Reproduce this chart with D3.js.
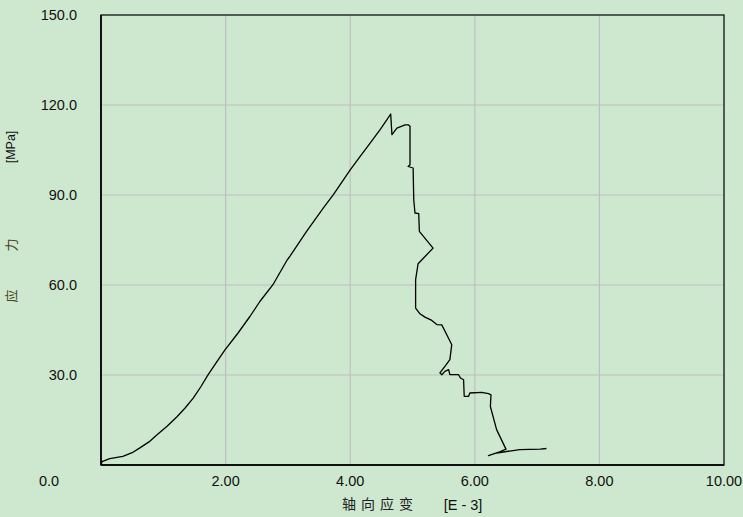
<!DOCTYPE html>
<html><head><meta charset="utf-8">
<script src="https://cdn.jsdelivr.net/npm/d3@7"></script>
<style>html,body{margin:0;padding:0;background:#cde8cf;}svg{display:block;}</style>
</head><body><svg id="c" width="743" height="517"></svg>
<script>
const strain = [0,0.016,0.14,0.35,0.50,0.63,0.77,0.90,1.06,1.22,1.35,1.48,1.60,1.72,1.85,1.99,2.20,2.39,2.55,2.76,2.99,3.03,3.30,3.57,3.73,4.00,4.16,4.32,4.48,4.59,4.65,4.67,4.75,4.88,4.93,4.96,4.96,4.93,5.01,5.02,5.04,5.10,5.11,5.33,5.09,5.05,5.05,5.12,5.20,5.31,5.39,5.47,5.55,5.63,5.60,5.52,5.44,5.47,5.52,5.58,5.60,5.74,5.77,5.82,5.83,5.90,5.92,6.11,6.22,6.26,6.25,6.35,6.50,6.41,6.22,6.35,6.51,6.72,7.05,7.15];
const stress = [0,1.1,2.1,2.9,4.1,5.8,7.7,10.1,12.9,16.1,19.0,22.3,26.0,30.1,34.1,38.4,44.0,49.5,54.5,60.1,68.4,69.5,77.9,85.7,90.1,98.4,102.9,107.3,111.8,115.1,117.0,110.1,112.3,113.4,113.4,112.9,100.1,99.5,99.0,88.4,84.0,83.8,77.9,72.3,67.1,61.8,52.3,50.4,49.3,48.2,46.8,46.7,43.4,40.1,35.1,32.9,30.7,30.1,31.2,31.8,30.1,30.1,29.0,28.4,22.9,22.9,24.0,24.2,23.8,23.4,19.5,11.8,5.3,4.5,3.1,4.0,4.5,5.1,5.3,5.5];
const xTicks = [0,2,4,6,8,10];
const xTickLabels = ["0.0","2.00","4.00","6.00","8.00","10.00"];
const yTicks = [0,30,60,90,120,150];
const yTickLabels = ["","30.0","60.0","90.0","120.0","150.0"];

const svg = d3.select("#c");
const L=101, R=724, T=15, B=465;
const x = d3.scaleLinear().domain([0,10]).range([L,R]);
const y = d3.scaleLinear().domain([0,150]).range([B,T]);
const font = "Arial, 'Liberation Sans', sans-serif";

// grid
svg.append("g").selectAll("line").data(xTicks.slice(1,-1)).join("line")
  .attr("x1",d=>x(d)).attr("x2",d=>x(d)).attr("y1",T).attr("y2",B)
  .attr("stroke","#bfbfbf").attr("stroke-width",1.2);
svg.append("g").selectAll("line").data(yTicks.slice(1,-1)).join("line")
  .attr("y1",d=>y(d)).attr("y2",d=>y(d)).attr("x1",L).attr("x2",R)
  .attr("stroke","#bfbfbf").attr("stroke-width",1.2);

// frame
svg.append("rect").attr("x",L).attr("y",T).attr("width",R-L).attr("height",B-T)
  .attr("fill","none").attr("stroke","#111").attr("stroke-width",1.3);
svg.append("line").attr("x1",L).attr("x2",L).attr("y1",T).attr("y2",B).attr("stroke","#111").attr("stroke-width",2);
svg.append("line").attr("x1",L).attr("x2",R).attr("y1",B).attr("y2",B).attr("stroke","#111").attr("stroke-width",2);

// tick labels
svg.append("g").selectAll("text").data(xTicks).join("text")
  .attr("x",(d,i)=> i===0 ? 49 : x(d)).attr("y",486)
  .attr("text-anchor","middle").attr("font-family",font).attr("font-size",14.5).attr("fill","#111")
  .text((d,i)=>xTickLabels[i]);
svg.append("g").selectAll("text").data(yTicks).join("text")
  .attr("x",77).attr("y",d=>y(d)+5)
  .attr("text-anchor","end").attr("font-family",font).attr("font-size",14.5).attr("fill","#111")
  .text((d,i)=>yTickLabels[i]);

// axis titles
const cjk = "'Noto Sans CJK SC', sans-serif";
svg.append("text").attr("x",380).attr("y",509).attr("text-anchor","middle")
  .attr("font-family",cjk).attr("font-size",14).attr("fill","#222").attr("letter-spacing","5px")
  .text("轴向应变");
svg.append("text").attr("x",463).attr("y",510).attr("text-anchor","middle")
  .attr("font-family",font).attr("font-size",14.5).attr("fill","#111").text("[E - 3]");
svg.append("text").attr("transform","translate(15,147) rotate(-90)").attr("text-anchor","middle")
  .attr("font-family",font).attr("font-size",12.5).attr("fill","#111").text("[MPa]");
[["力",245],["应",296]].forEach(([c,py])=>{
  svg.append("text").attr("transform",`translate(16,${py}) rotate(-90)`).attr("text-anchor","middle")
    .attr("font-family",cjk).attr("font-size",13).attr("fill","#4a4020").text(c);
});

// curve
const pts = strain.map((s,i)=>[s,stress[i]]);
svg.append("path").datum(pts)
  .attr("d", d3.line().x(d=>x(d[0])).y(d=>y(d[1])))
  .attr("fill","none").attr("stroke","#000").attr("stroke-width",1.3).attr("stroke-linejoin","round");
</script></body></html>
